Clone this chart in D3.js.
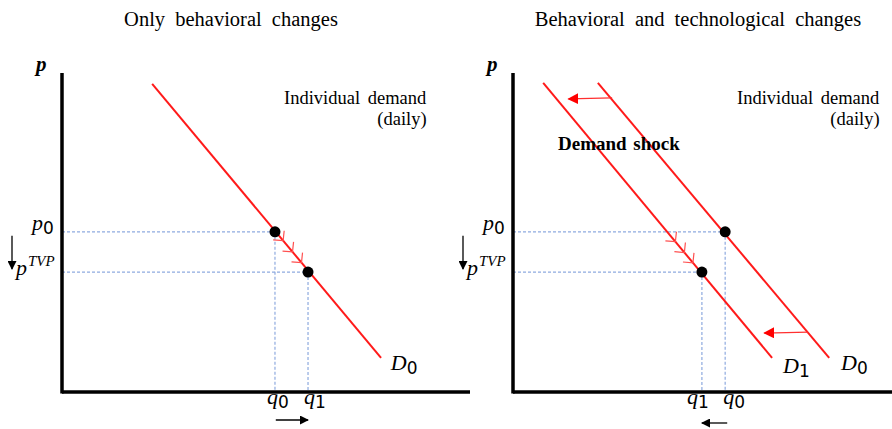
<!DOCTYPE html>
<html>
<head>
<meta charset="utf-8">
<script src="https://cdn.jsdelivr.net/npm/d3@7"></script>
<style>
  body { margin: 0; background: #fff; }
  text { font-family: "Liberation Serif", "DejaVu Serif", serif; }
</style>
</head>
<body>
<div id="chart"></div>
<script>
// panel titles
var titles = ["Only behavioral changes", "Behavioral and technological changes"];

// demand curves, [q, p] end points (axis units 0..100)
var demandLeft = [[22.1, 96.6], [78.2, 10.7]];
var demandRightD0 = [[20.8, 96.9], [77.5, 10.7]];
var demandRightD1 = [[7.4, 96.9], [63.5, 10.7]];

// prices
var p0 = 50.2, pTVP = 37.6;
// quantities
var qLeft = [52.2, 60.3];     // q0, q1
var qRight = [52.0, 46.3];    // q0, q1

// movement chevrons along the curve (q positions)
var chevLeft = [54.2, 56.5, 58.7];
var chevRight = [39.8, 42.0, 44.1];

// demand shock arrows [qFrom, qTo, p]
var shiftArrows = [[24.3, 13.6, 92.2], [72.3, 61.6, 18.8]];

var W = 892, H = 429;
var svg = d3.select("#chart").append("svg")
    .attr("width", W)
    .attr("height", H);

var defs = svg.append("defs");
defs.append("marker")
    .attr("id", "headBlack")
    .attr("viewBox", "0 0 10 10")
    .attr("refX", 9).attr("refY", 5)
    .attr("markerWidth", 9).attr("markerHeight", 9)
    .attr("markerUnits", "userSpaceOnUse")
    .attr("orient", "auto")
    .append("path").attr("d", "M0,0 L10,5 L0,10 z").attr("fill", "#000");
defs.append("marker")
    .attr("id", "headRed")
    .attr("viewBox", "0 0 10 10")
    .attr("refX", 9).attr("refY", 5)
    .attr("markerWidth", 11).attr("markerHeight", 11)
    .attr("markerUnits", "userSpaceOnUse")
    .attr("orient", "auto")
    .append("path").attr("d", "M0,0 L10,5 L0,10 z").attr("fill", "#f00");

var RED = "#ff1a1a", DASH = "#8eaadf";

function lineOn(d, q) {
    // p on the straight demand line through the two end points
    var k = (d[1][1] - d[0][1]) / (d[1][0] - d[0][0]);
    return d[0][1] + k * (q - d[0][0]);
}

function mathLabel(g, x, y, letter, sub, sup) {
    var t = g.append("text")
        .attr("x", x).attr("y", y)
        .style("font-size", "22px");
    t.append("tspan").style("font-style", "italic").text(letter);
    if (sub) t.append("tspan").attr("dy", 4).style("font-size", "17px")
        .style("font-family", "'DejaVu Sans', sans-serif").text(sub);
    if (sup) t.append("tspan").attr("dx", 1).attr("dy", -9).style("font-size", "15px")
        .style("font-style", "italic").text(sup);
    return t;
}

function drawPanel(ox, qMax, title, titleX, opts) {
    var x = d3.scaleLinear().domain([0, 100]).range([ox, ox + 408]);
    var y = d3.scaleLinear().domain([0, 100]).range([392, 73]);
    var g = svg.append("g");

    g.append("text")
        .attr("x", titleX).attr("y", 26)
        .attr("text-anchor", "middle")
        .style("font-size", "20.5px")
        .style("word-spacing", "5px")
        .text(title);

    // dashed guides
    opts.points.forEach(function(pt) {
        g.append("line")
            .attr("x1", x(0)).attr("x2", x(pt[0]))
            .attr("y1", y(pt[1])).attr("y2", y(pt[1]))
            .attr("stroke", DASH).attr("stroke-width", 1.2)
            .attr("stroke-dasharray", "3,2");
        g.append("line")
            .attr("x1", x(pt[0])).attr("x2", x(pt[0]))
            .attr("y1", y(pt[1])).attr("y2", y(0))
            .attr("stroke", DASH).attr("stroke-width", 1.2)
            .attr("stroke-dasharray", "3,2");
    });

    // demand curves
    var ln = d3.line().x(function(d) { return x(d[0]); }).y(function(d) { return y(d[1]); });
    opts.curves.forEach(function(c) {
        g.append("path").attr("d", ln(c)).attr("fill", "none")
            .attr("stroke", RED).attr("stroke-width", 2);
    });

    // chevrons pointing down the curve
    var cd = opts.chevCurve;
    var dx = x(cd[1][0]) - x(cd[0][0]), dy = y(cd[1][1]) - y(cd[0][1]);
    var ang = Math.atan2(dy, dx);
    opts.chevrons.forEach(function(q) {
        var cx = x(q), cy = y(lineOn(cd, q));
        var L = 10;
        var a1 = ang + Math.PI - 0.8, a2 = ang + Math.PI + 0.8;
        g.append("path")
            .attr("d", "M" + (cx + L * Math.cos(a1)) + "," + (cy + L * Math.sin(a1)) +
                " L" + cx + "," + cy +
                " L" + (cx + L * Math.cos(a2)) + "," + (cy + L * Math.sin(a2)))
            .attr("fill", "none").attr("stroke", "#ff5050").attr("stroke-width", 1.2);
    });

    // points
    g.selectAll("circle.pt").data(opts.points).enter().append("circle")
        .attr("cx", function(d) { return x(d[0]); })
        .attr("cy", function(d) { return y(d[1]); })
        .attr("r", 5.5).attr("fill", "#000");

    // axes
    g.append("line").attr("x1", x(0)).attr("x2", x(0)).attr("y1", y(100)).attr("y2", y(0) + 1.5)
        .attr("stroke", "#000").attr("stroke-width", 3.5);
    g.append("line").attr("x1", x(0)).attr("x2", x(qMax)).attr("y1", y(0)).attr("y2", y(0))
        .attr("stroke", "#000").attr("stroke-width", 3.5);

    g.append("text").attr("x", x(0) - 26).attr("y", 71)
        .style("font-size", "21px").style("font-weight", "bold").style("font-style", "italic")
        .text("p");

    // price labels
    mathLabel(g, x(0) - 30, y(p0) - 2, "p", "0", null);
    mathLabel(g, x(0) - 46, y(pTVP) + 3, "p", null, "TVP");
    g.append("line").attr("x1", x(0) - 50).attr("x2", x(0) - 50)
        .attr("y1", y(p0) + 4).attr("y2", y(pTVP) - 3)
        .attr("stroke", "#000").attr("stroke-width", 1.3)
        .attr("marker-end", "url(#headBlack)");

    // quantity labels [q, subscript, pixel offset]
    opts.qLabels.forEach(function(l) {
        mathLabel(g, x(l[0]) + l[2], 404, "q", l[1], null);
    });
    g.append("line")
        .attr("x1", x(opts.qArrow[0])).attr("x2", x(opts.qArrow[1]))
        .attr("y1", opts.qArrowY).attr("y2", opts.qArrowY)
        .attr("stroke", "#000").attr("stroke-width", 1.3)
        .attr("marker-end", "url(#headBlack)");

    g.append("text").attr("x", opts.descX).attr("y", 104)
        .attr("text-anchor", "start").style("font-size", "18.5px")
        .style("word-spacing", "3px")
        .text("Individual demand");
    g.append("text").attr("x", opts.descX + 118).attr("y", 125)
        .attr("text-anchor", "middle").style("font-size", "18.5px")
        .text("(daily)");

    opts.curveLabels.forEach(function(c) {
        mathLabel(g, x(c[0]), y(c[1]), "D", c[2], null);
    });

    return {g: g, x: x, y: y};
}

drawPanel(62, 100, titles[0], 231, {
    curves: [demandLeft],
    points: [[qLeft[0], p0], [qLeft[1], pTVP]],
    chevCurve: demandLeft,
    chevrons: chevLeft,
    qLabels: [[qLeft[0], "0", -8], [qLeft[1], "1", -4]],
    qArrow: [qLeft[0] + 0.2, qLeft[1]],
    qArrowY: 420,
    descX: 284,
    curveLabels: [[80.6, 7.0, "0"]]
});

var right = drawPanel(513, 92.9, titles[1], 698, {
    curves: [demandRightD0, demandRightD1],
    points: [[qRight[0], p0], [qRight[1], pTVP]],
    chevCurve: demandRightD1,
    chevrons: chevRight,
    qLabels: [[qRight[1], "1", -15], [qRight[0], "0", -2]],
    qArrow: [qRight[0] + 0.5, qRight[1]],
    qArrowY: 423,
    descX: 737,
    curveLabels: [[80.4, 6.8, "0"], [66.2, 5.8, "1"]]
});

right.g.append("text").attr("x", 558).attr("y", 150)
    .style("font-size", "19px").style("font-weight", "bold")
    .style("word-spacing", "2px")
    .text("Demand shock");

shiftArrows.forEach(function(a) {
    right.g.append("line")
        .attr("x1", right.x(a[0])).attr("x2", right.x(a[1]))
        .attr("y1", right.y(a[2])).attr("y2", right.y(a[2]) + 1)
        .attr("stroke", "#ff3030").attr("stroke-width", 1.2)
        .attr("marker-end", "url(#headRed)");
});
</script>
</body>
</html>
